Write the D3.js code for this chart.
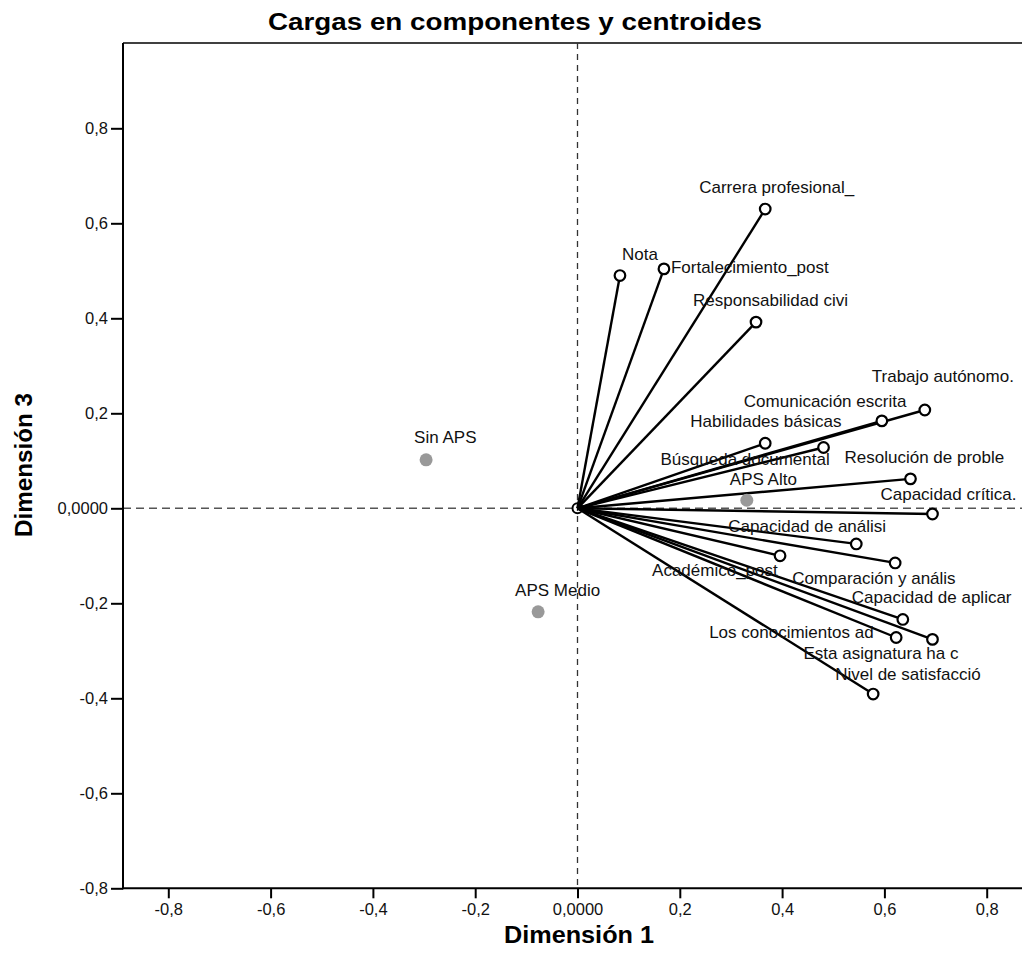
<!DOCTYPE html>
<html>
<head>
<meta charset="utf-8">
<script src="https://cdn.jsdelivr.net/npm/d3@7"></script>
<style>
  html, body { margin: 0; padding: 0; background: #fff; }
  svg { display: block; font-family: "Liberation Sans", Arial, sans-serif; }
</style>
</head>
<body>
<svg id="chart" width="1022" height="957"></svg>
<script>
// ---- Data ----
const variables = [
  "Carrera profesional_", "Nota", "Fortalecimiento_post", "Responsabilidad civi",
  "Trabajo autónomo.", "Comunicación escrita", "Habilidades básicas", "Búsqueda documental",
  "Resolución de proble", "Capacidad crítica.", "Capacidad de análisi", "Académico_post",
  "Comparación y anális", "Capacidad de aplicar", "Los conocimientos ad", "Esta asignatura ha c",
  "Nivel de satisfacció"
];
const loadingsDim1 = [0.367, 0.083, 0.169, 0.349, 0.679, 0.595, 0.367, 0.481,
  0.651, 0.694, 0.545, 0.396, 0.621, 0.636, 0.623, 0.694, 0.578];
const loadingsDim3 = [0.630, 0.490, 0.504, 0.392, 0.207, 0.184, 0.137, 0.128,
  0.062, -0.012, -0.075, -0.100, -0.115, -0.234, -0.272, -0.276, -0.391];

const groups = ["Sin APS", "APS Medio", "APS Alto"];
const centroidDim1 = [-0.296, -0.077, 0.331];
const centroidDim3 = [0.102, -0.218, 0.017];

const xTickValues = [-0.8, -0.6, -0.4, -0.2, 0, 0.2, 0.4, 0.6, 0.8];
const yTickValues = [-0.8, -0.6, -0.4, -0.2, 0, 0.2, 0.4, 0.6, 0.8];
const xTickLabels = ["-0,8", "-0,6", "-0,4", "-0,2", "0,0000", "0,2", "0,4", "0,6", "0,8"];
const yTickLabels = ["-0,8", "-0,6", "-0,4", "-0,2", "0,0000", "0,2", "0,4", "0,6", "0,8"];

const titleText = "Cargas en componentes y centroides";
const xTitle = "Dimensión 1";
const yTitle = "Dimensión 3";

// ---- Layout (label placement offsets in px, relative to the marker) ----
const variableLabelOffsets = [
  [-66, -16], [2, -16], [7, 4], [-63, -16],
  [-53, -28], [-138, -14], [-75, -16], [-163, 17.5],
  [-66, -16], [-52, -14], [-128, -12], [-128, 20],
  [-103, 21], [-51, -16], [-187, 0], [-129, 20],
  [-38, -14]
];
const groupLabelOffsets = [[-12, -17], [-23, -16], [-17, -15.5]];

// ---- Chart ----
const svg = d3.select("#chart");
const frame = { left: 123, right: 1030, top: 43, bottom: 888.3 };

const x = d3.scaleLinear().domain([-0.8, 0.8]).range([168.3, 986.7]);
const y = d3.scaleLinear().domain([-0.8, 0.8]).range([888.3, 128.3]);

// Title
svg.append("text")
  .attr("x", 268).attr("y", 30)
  .attr("font-size", 23).attr("font-weight", "bold")
  .attr("textLength", 494).attr("lengthAdjust", "spacingAndGlyphs")
  .attr("fill", "#000")
  .text(titleText);

// Frame: top line
svg.append("line")
  .attr("x1", frame.left).attr("x2", frame.right)
  .attr("y1", frame.top).attr("y2", frame.top)
  .attr("stroke", "#000").attr("stroke-width", 1.5);

// Reference lines
svg.append("line")
  .attr("x1", frame.left).attr("x2", frame.right)
  .attr("y1", y(0)).attr("y2", y(0))
  .attr("stroke", "#555").attr("stroke-width", 1.5)
  .attr("stroke-dasharray", "8,5");
svg.append("line")
  .attr("x1", x(0)).attr("x2", x(0))
  .attr("y1", frame.top).attr("y2", frame.bottom)
  .attr("stroke", "#333").attr("stroke-width", 1.3)
  .attr("stroke-dasharray", "6,5");

// Axes
const xAxis = d3.axisBottom(x)
  .tickValues(xTickValues)
  .tickFormat((d, i) => xTickLabels[i])
  .tickSizeOuter(0).tickSizeInner(10).tickPadding(5);
const gx = svg.append("g").attr("transform", `translate(0,${frame.bottom})`).call(xAxis);
gx.select(".domain").remove();
gx.append("line").attr("x1", frame.left).attr("x2", frame.right)
  .attr("stroke", "#000").attr("stroke-width", 2);
gx.selectAll(".tick line").attr("stroke", "#000").attr("stroke-width", 2);
gx.selectAll(".tick text").attr("font-size", 16.5).attr("fill", "#111")
  .attr("font-family", "'Liberation Sans', Arial, sans-serif");

const yAxis = d3.axisLeft(y)
  .tickValues(yTickValues)
  .tickFormat((d, i) => yTickLabels[i])
  .tickSizeOuter(0).tickSizeInner(12).tickPadding(3);
const gy = svg.append("g").attr("transform", `translate(${frame.left},0)`).call(yAxis);
gy.select(".domain").remove();
gy.append("line").attr("y1", frame.top).attr("y2", frame.bottom + 1)
  .attr("stroke", "#000").attr("stroke-width", 2);
gy.selectAll(".tick line").attr("stroke", "#000").attr("stroke-width", 2);
gy.selectAll(".tick text").attr("font-size", 16.5).attr("fill", "#111")
  .attr("font-family", "'Liberation Sans', Arial, sans-serif");

// Axis titles
svg.append("text")
  .attr("x", 504).attr("y", 943)
  .attr("font-size", 23).attr("font-weight", "bold")
  .attr("textLength", 150).attr("lengthAdjust", "spacingAndGlyphs")
  .text(xTitle);
svg.append("text")
  .attr("transform", "translate(32,537) rotate(-90)")
  .attr("font-size", 24).attr("font-weight", "bold")
  .attr("textLength", 144).attr("lengthAdjust", "spacingAndGlyphs")
  .text(yTitle);

// Vectors
const vectors = variables.map((name, i) => ({
  name, d1: loadingsDim1[i], d3: loadingsDim3[i], off: variableLabelOffsets[i]
}));

svg.append("g").selectAll("line").data(vectors).join("line")
  .attr("x1", x(0)).attr("y1", y(0))
  .attr("x2", d => x(d.d1)).attr("y2", d => y(d.d3))
  .attr("stroke", "#000").attr("stroke-width", 2.4);

svg.append("circle")
  .attr("cx", x(0)).attr("cy", y(0)).attr("r", 5)
  .attr("fill", "none").attr("stroke", "#000").attr("stroke-width", 2);

svg.append("g").selectAll("circle").data(vectors).join("circle")
  .attr("cx", d => x(d.d1)).attr("cy", d => y(d.d3)).attr("r", 5.3)
  .attr("fill", "#fff").attr("stroke", "#000").attr("stroke-width", 2.2);

// Centroids
const cents = groups.map((name, i) => ({
  name, d1: centroidDim1[i], d3: centroidDim3[i], off: groupLabelOffsets[i]
}));
svg.append("g").selectAll("circle").data(cents).join("circle")
  .attr("cx", d => x(d.d1)).attr("cy", d => y(d.d3)).attr("r", 6.5)
  .attr("fill", "#999");

// Labels
svg.append("g").selectAll("text").data(vectors.concat(cents)).join("text")
  .attr("x", d => x(d.d1) + d.off[0])
  .attr("y", d => y(d.d3) + d.off[1])
  .attr("font-size", 17).attr("fill", "#111")
  .text(d => d.name);
</script>
</body>
</html>
